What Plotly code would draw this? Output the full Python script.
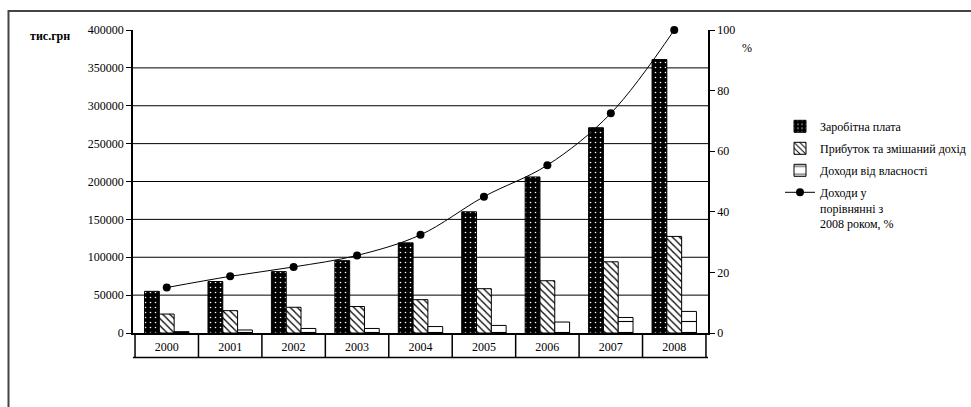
import plotly.graph_objects as go

years = ["2000", "2001", "2002", "2003", "2004", "2005", "2006", "2007", "2008"]
wages = [55000, 68000, 81000, 95500, 119000, 160000, 206000, 271000, 361000]
profit = [25000, 29500, 34000, 35000, 44000, 58500, 69000, 94000, 127500]
property_income = [1800, 4000, 6000, 6000, 8500, 10000, 14500, 20500, 28500]
income_pct = [15.0, 18.7, 21.8, 25.6, 32.4, 45.0, 55.4, 72.5, 100.0]

left_ticks = [0, 50000, 100000, 150000, 200000, 250000, 300000, 350000, 400000]
right_ticks = [0, 20, 40, 60, 80, 100]

names = ["Заробітна плата", "Прибуток та змішаний дохід", "Доходи від власності",
         "Доходи у<br>порівнянні з<br>2008 роком, %"]

W, H = 971, 407
L, R, T, B = 133, 708, 30, 333


def px_x(px):
    return (px - L) / (R - L)


def px_y(py):
    return (B - py) / (B - T)


FONT = "Liberation Serif"

fig = go.Figure()
fig.add_trace(go.Bar(
    x=years, y=wages, name=names[0], legendgroup="a",
    marker=dict(color="black", line=dict(color="black", width=1),
                pattern=dict(shape=".", fgcolor="white", bgcolor="black",
                             size=5, solidity=0.08, fillmode="replace")),
))
fig.add_trace(go.Bar(
    x=years, y=profit, name=names[1], legendgroup="b",
    marker=dict(color="white", line=dict(color="black", width=1),
                pattern=dict(shape="\\", fgcolor="black", bgcolor="white",
                             size=5, solidity=0.25, fillmode="replace")),
))
fig.add_trace(go.Bar(
    x=years, y=property_income, name=names[2], legendgroup="c",
    marker=dict(color="white", line=dict(color="black", width=1),
                pattern=dict(shape="-", fgcolor="black", bgcolor="white",
                             size=11, solidity=0.1, fillmode="replace")),
))
fig.add_trace(go.Scatter(
    x=years, y=income_pct, name=names[3], legendgroup="d", yaxis="y2",
    mode="lines+markers", line=dict(color="black", width=1, shape="spline"),
    marker=dict(symbol="circle", size=8, color="black"), cliponaxis=False,
))

shapes = []
for v in left_ticks[1:-1]:
    shapes.append(dict(type="line", xref="paper", yref="y", x0=0, x1=1, y0=v, y1=v,
                       line=dict(color="black", width=1), layer="below"))
yt = px_y(357.5)
shapes.append(dict(type="line", xref="paper", yref="paper", x0=0, x1=1, y0=yt, y1=yt,
                   line=dict(color="black", width=1.5)))
for k in range(len(years) + 1):
    shapes.append(dict(type="line", xref="x", yref="paper", x0=k - 0.5, x1=k - 0.5,
                       y0=0, y1=yt, line=dict(color="black", width=1.5)))
# outer frame (right and bottom edges fall outside the page)
shapes.append(dict(type="rect", xref="paper", yref="paper",
                   x0=px_x(8.5), x1=px_x(1010), y0=px_y(440), y1=px_y(11),
                   line=dict(color="#444444", width=2), fillcolor="rgba(0,0,0,0)"))

annotations = [
    dict(text="<b>тис.грн</b>", xref="paper", yref="paper", x=px_x(28), y=px_y(36),
         xanchor="left", yanchor="middle", showarrow=False,
         font=dict(family=FONT, size=12, color="black")),
    dict(text="%", xref="paper", yref="paper", x=px_x(740), y=px_y(48),
         xanchor="left", yanchor="middle", showarrow=False,
         font=dict(family=FONT, size=12, color="black")),
]

fig.update_layout(
    width=W, height=H,
    margin=dict(l=L, r=W - R, t=T, b=H - B, pad=0, autoexpand=False),
    paper_bgcolor="white", plot_bgcolor="white",
    font=dict(family=FONT, size=12, color="black"),
    barmode="group", bargap=0.3, bargroupgap=0,
    xaxis=dict(type="category", showline=True, linecolor="black", linewidth=1.5,
               ticks="", showgrid=False, tickfont=dict(family=FONT, size=12),
               ticklabelstandoff=2, automargin=False),
    yaxis=dict(range=[0, 400000], tickvals=left_ticks, ticktext=[str(v) for v in left_ticks],
               showline=True, linecolor="black", linewidth=1.5, ticks="outside",
               ticklen=5, tickcolor="black", showgrid=False, zeroline=False,
               tickfont=dict(family=FONT, size=12), automargin=False),
    yaxis2=dict(range=[0, 100], tickvals=right_ticks, overlaying="y", side="right",
                anchor="x", showline=True, linecolor="black", linewidth=1.5,
                ticks="outside", ticklen=5, tickcolor="black", showgrid=False,
                zeroline=False, tickfont=dict(family=FONT, size=12), automargin=False),
    legend=dict(x=px_x(780), y=px_y(112), xanchor="left", yanchor="top",
                font=dict(family=FONT, size=12, color="black"),
                bgcolor="rgba(0,0,0,0)", traceorder="grouped", tracegroupgap=3,
                valign="top", itemwidth=30),
    shapes=shapes, annotations=annotations,
    showlegend=True,
)

fig.write_html(
    "out.html",
    config={"displayModeBar": False},
    post_script="document.documentElement.style.overflow='hidden';"
                "document.body.style.overflow='hidden';document.body.style.margin='0';",
)
